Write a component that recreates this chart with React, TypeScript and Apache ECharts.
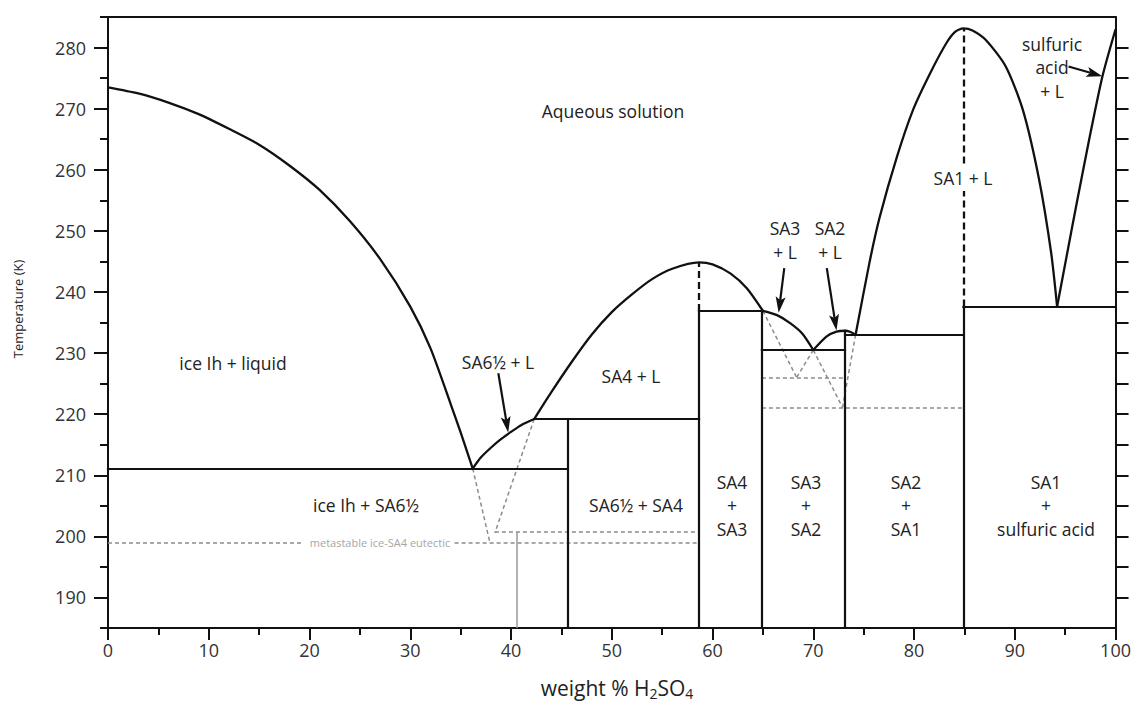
import React, { useEffect, useRef } from 'react';
import * as echarts from 'echarts';

// ---------- axis ticks ----------
const xMajorTicks = [0, 10, 20, 30, 40, 50, 60, 70, 80, 90, 100];
const yMajorTicks = [190, 200, 210, 220, 230, 240, 250, 260, 270, 280];
const yRightTicks = [190, 195, 200, 205, 210, 215, 220, 225, 230, 235, 240, 245, 250, 255, 260, 265, 270, 275, 280];
const yCornerTicks = [185, 285];

// ---------- liquidus curves (weight % H2SO4, K) ----------
const iceLiquidus: [number, number][] = [
  [0, 273.5], [3, 272.5], [6, 271.0], [9, 269.1], [12, 266.7], [15, 264.1], [18, 260.7],
  [21, 256.7], [24, 251.6], [27, 245.4], [30, 237.6], [32, 230.8], [34, 221.7], [35, 217.0], [36.2, 211.1],
];
const sa65Liquidus: [number, number][] = [
  [36.2, 211.1], [37, 212.9], [38, 214.5], [39, 215.9], [40, 217.1], [41, 218.2], [42.3, 219.2],
];
const sa4Liquidus: [number, number][] = [
  [42.3, 219.2], [44, 223.6], [46, 228.5], [48, 233.0], [50, 236.7], [52, 239.6], [54, 242.1],
  [56, 243.8], [58.66, 244.85], [60, 244.5], [61.8, 243.0], [63.4, 240.6], [65.0, 236.9],
];
const sa3Liquidus: [number, number][] = [
  [65.0, 236.9], [66.4, 236.2], [67.7, 234.9], [68.9, 233.2], [70.0, 230.5],
];
const sa2Liquidus: [number, number][] = [
  [70.0, 230.5], [71.3, 232.7], [72.3, 233.5], [73.15, 233.65], [73.7, 233.45], [74.2, 233.0],
];
const sa1Liquidus: [number, number][] = [
  [74.2, 233.0], [75.6, 245.0], [76.6, 252.3], [78.3, 262.1], [79.9, 269.8], [81.6, 275.8],
  [83.2, 280.7], [84.1, 282.6], [84.9, 283.15], [85.8, 282.8], [87.15, 281.2], [89.1, 276.9],
  [90.8, 269.8], [92.4, 258.5], [93.6, 246.5], [94.2, 237.6],
];
const acidLiquidus: [number, number][] = [
  [94.2, 237.6], [95, 244.6], [96.2, 255.0], [97.4, 265.1], [98.7, 275.3], [100, 283.0],
];

// ---------- solid phase boundaries ----------
const boundaryLines: [number, number][][] = [
  [[0, 211.1], [45.6, 211.1]],
  [[45.6, 185], [45.6, 219.2]],
  [[42.3, 219.2], [58.66, 219.2]],
  [[58.66, 185], [58.66, 236.9]],
  [[58.66, 236.9], [65.0, 236.9]],
  [[64.9, 185], [64.9, 236.9]],
  [[64.9, 230.5], [73.15, 230.5]],
  [[73.15, 185], [73.15, 233.65]],
  [[73.15, 232.95], [84.9, 232.95]],
  [[84.9, 185], [84.9, 237.6]],
  [[84.9, 237.6], [100, 237.6]],
];
// congruent melting points (black dashed)
const congruentLines: [number, number][][] = [
  [[58.66, 236.9], [58.66, 244.85]],
  [[84.9, 237.6], [84.9, 283.15]],
];
// metastable extensions (grey dotted)
const metastableLines: [number, number][][] = [
  [[0, 199.0], [19.4, 199.0]],
  [[34.4, 199.0], [58.66, 199.0]],
  [[38.4, 200.7], [58.66, 200.7]],
  [[36.2, 211.1], [37.9, 199.0]],
  [[42.3, 219.2], [38.4, 200.6]],
  [[65.0, 236.9], [68.35, 226.0]],
  [[70.0, 230.5], [68.35, 226.0]],
  [[64.9, 226.0], [73.15, 226.0]],
  [[70.0, 230.5], [72.9, 221.1]],
  [[74.2, 233.0], [72.9, 221.1]],
  [[64.9, 221.1], [84.9, 221.1]],
];
const greyMarker: [number, number][][] = [
  [[40.6, 185], [40.6, 200.7]],
];
// arrows: [x0, y0, x1(tip), y1(tip)]
const arrows: number[][] = [
  [38.74, 226.7, 39.72, 217.0],
  [67.12, 243.9, 66.56, 236.6],
  [71.34, 243.9, 72.3, 233.7],
  [95.33, 276.9, 98.69, 275.3],
];

// ---------- region labels ----------
const regionLabels = [
  { text: 'Aqueous solution', x: 613, y: 111 },
  { text: 'ice Ih + liquid', x: 233, y: 363 },
  { text: 'SA6½ + L', x: 498, y: 362 },
  { text: 'SA4 + L', x: 631, y: 376 },
  { text: 'ice Ih + SA6½', x: 366, y: 505 },
  { text: 'SA6½ + SA4', x: 636, y: 505 },
  { text: 'SA4\n+\nSA3', x: 732, y: 505 },
  { text: 'SA3\n+\nSA2', x: 806, y: 505 },
  { text: 'SA2\n+\nSA1', x: 906, y: 505 },
  { text: 'SA1\n+\nsulfuric acid', x: 1046, y: 505 },
  { text: 'SA3\n+ L', x: 785, y: 240 },
  { text: 'SA2\n+ L', x: 830, y: 240 },
  { text: 'sulfuric\nacid\n+ L', x: 1052, y: 67 },
];

const FONT = '"Open Sans", "Noto Sans", sans-serif';
const INK = '#111';
const LABEL_SIZE = 17.5;

export default function App() {
  const ref = useRef<HTMLDivElement>(null);
  useEffect(() => {
    const chart = echarts.init(ref.current!, null, { renderer: 'svg' });

    const curve = (data: [number, number][]) => ({
      type: 'line',
      data,
      smooth: 0.25,
      showSymbol: false,
      symbol: 'none',
      silent: true,
      z: 3,
      lineStyle: { color: INK, width: 2.3 },
    });
    const segs = (list: [number, number][][], lineStyle: any, z = 2) => ({
      type: 'lines',
      coordinateSystem: 'cartesian2d',
      silent: true,
      z,
      data: list.map((c) => ({ coords: c })),
      lineStyle: { opacity: 1, ...lineStyle },
    });

    const tickStyle = { color: INK, width: 2 };

    const option: any = {
      animation: false,
      textStyle: { fontFamily: FONT },
      grid: { left: 108, right: 14, top: 17, bottom: 76, show: false },
      xAxis: [
        {
          type: 'value', min: 0, max: 100, interval: 10, position: 'bottom',
          axisLine: { show: true, onZero: false, lineStyle: { color: INK, width: 2 } },
          axisTick: { show: true, length: 12, lineStyle: tickStyle, customValues: xMajorTicks },
          axisLabel: { margin: 13, fontSize: 18, color: '#333', fontFamily: FONT },
          splitLine: { show: false },
        },
        {
          type: 'value', min: 0, max: 100, interval: 5, position: 'bottom',
          axisLine: { show: false },
          axisTick: { show: true, length: 7, lineStyle: tickStyle },
          axisLabel: { show: false },
          splitLine: { show: false },
        },
        {
          type: 'value', min: 0, max: 100, position: 'top',
          axisLine: { show: true, onZero: false, lineStyle: { color: INK, width: 2 } },
          axisTick: { show: false },
          axisLabel: { show: false },
          splitLine: { show: false },
        },
      ],
      yAxis: [
        {
          type: 'value', min: 185, max: 285, interval: 5, position: 'left',
          axisLine: { show: true, onZero: false, lineStyle: { color: INK, width: 2 } },
          axisTick: { show: true, length: 8, lineStyle: tickStyle },
          axisLabel: { show: false },
          splitLine: { show: false },
        },
        {
          type: 'value', min: 185, max: 285, position: 'left',
          axisLine: { show: false },
          axisTick: { show: true, length: 14, lineStyle: tickStyle, customValues: yMajorTicks },
          axisLabel: { show: true, margin: 22, fontSize: 18, color: '#333', fontFamily: FONT, customValues: yMajorTicks },
          splitLine: { show: false },
        },
        {
          type: 'value', min: 185, max: 285, position: 'right',
          axisLine: { show: true, onZero: false, lineStyle: { color: INK, width: 2 } },
          axisTick: { show: true, length: 13, lineStyle: tickStyle, customValues: yRightTicks },
          axisLabel: { show: false },
          splitLine: { show: false },
        },
        {
          type: 'value', min: 185, max: 285, position: 'right',
          axisLine: { show: false },
          axisTick: { show: true, length: 8, lineStyle: tickStyle, customValues: yCornerTicks },
          axisLabel: { show: false },
          splitLine: { show: false },
        },
      ],
      series: [
        segs(metastableLines, { color: '#8c8c8c', width: 1.5, type: [4, 3] }, 1),
        segs(greyMarker, { color: '#999', width: 1.5 }, 1),
        segs(boundaryLines, { color: INK, width: 2.2, cap: 'square' }, 2),
        segs(congruentLines, { color: INK, width: 2.3, type: [7, 4] }, 2),
        curve(iceLiquidus),
        curve(sa65Liquidus),
        curve(sa4Liquidus),
        curve(sa3Liquidus),
        curve(sa2Liquidus),
        curve(sa1Liquidus),
        curve(acidLiquidus),
        {
          type: 'custom',
          silent: true,
          z: 4,
          data: arrows,
          renderItem: (_params: any, api: any) => {
            const s = api.coord([api.value(0), api.value(1)]);
            const e = api.coord([api.value(2), api.value(3)]);
            const dx = e[0] - s[0];
            const dy = e[1] - s[1];
            const len = Math.hypot(dx, dy) || 1;
            const ux = dx / len, uy = dy / len;
            const L = 16, W = 5, N = 3.5;
            const bx = e[0] - ux * L, by = e[1] - uy * L;
            const nx = e[0] - ux * (L - N), ny = e[1] - uy * (L - N);
            const px = -uy, py = ux;
            return {
              type: 'group',
              children: [
                { type: 'line', shape: { x1: s[0], y1: s[1], x2: nx, y2: ny }, style: { stroke: INK, lineWidth: 2.2 } },
                {
                  type: 'polygon',
                  shape: { points: [[e[0], e[1]], [bx + px * W, by + py * W], [nx, ny], [bx - px * W, by - py * W]] },
                  style: { fill: INK },
                },
              ],
            };
          },
        },
      ],
      graphic: [
        ...regionLabels.map((l) => ({
          type: 'text', x: l.x, y: l.y, z: 100, silent: true,
          style: {
            text: l.text, fontSize: LABEL_SIZE, fontFamily: FONT, fill: '#222',
            align: 'center', verticalAlign: 'middle', textAlign: 'center', textVerticalAlign: 'middle',
            lineHeight: 23.5,
          },
        })),
        {
          type: 'text', x: 963, y: 178, z: 100, silent: true,
          style: {
            text: 'SA1 + L', fontSize: LABEL_SIZE, fontFamily: FONT, fill: '#222',
            align: 'center', verticalAlign: 'middle', textAlign: 'center', textVerticalAlign: 'middle',
            backgroundColor: '#fff', padding: [4, 2],
          },
        },
        {
          type: 'text', x: 380, y: 542, z: 100, silent: true,
          style: {
            text: 'metastable ice-SA4 eutectic', fontSize: 11, fontFamily: FONT, fill: '#a6a6a6',
            align: 'center', verticalAlign: 'middle', textAlign: 'center', textVerticalAlign: 'middle',
          },
        },
        {
          type: 'text', x: 18, y: 309, z: 100, rotation: Math.PI / 2, silent: true,
          style: {
            text: 'Temperature (K)', fontSize: 13, fontFamily: FONT, fill: '#222',
            align: 'center', verticalAlign: 'middle', textAlign: 'center', textVerticalAlign: 'middle',
          },
        },
        {
          type: 'text', x: 617, y: 688, z: 100, silent: true,
          style: {
            text: '{a|weight % H}{s|2}{a|SO}{s|4}',
            fill: '#222', fontFamily: FONT,
            align: 'center', verticalAlign: 'middle', textAlign: 'center', textVerticalAlign: 'middle',
            rich: {
              a: { fontSize: 21, fontFamily: FONT, fill: '#222', lineHeight: 24 },
              s: { fontSize: 14, fontFamily: FONT, fill: '#222', lineHeight: 12, verticalAlign: 'bottom' },
            },
          },
        },
      ],
    };

    chart.setOption(option);
    return () => chart.dispose();
  }, []);

  return (
    <div
      ref={ref}
      style={{ position: 'absolute', left: 0, top: 0, width: 1134, height: 704, background: '#fff' }}
    />
  );
}
